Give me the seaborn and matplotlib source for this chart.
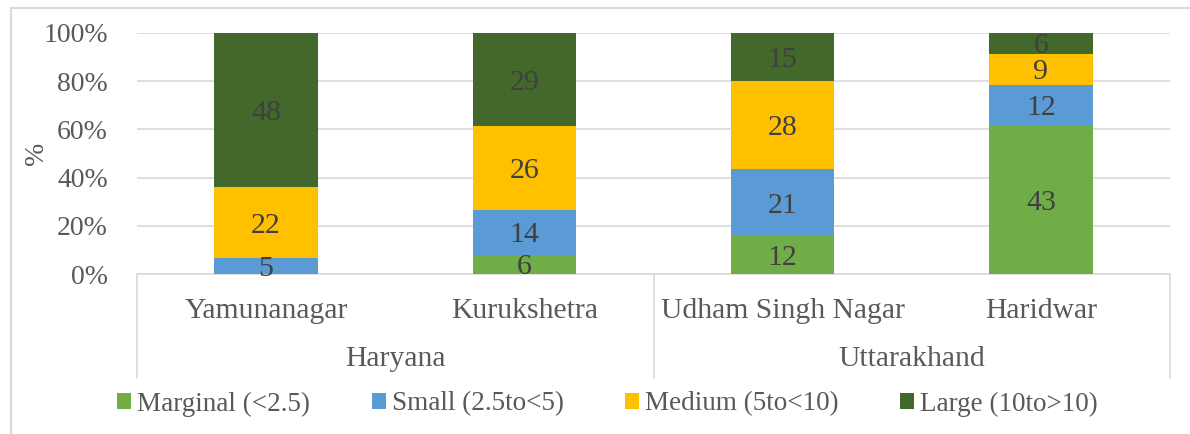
import numpy as np
import pandas as pd
import matplotlib
matplotlib.use("Agg")
import matplotlib.pyplot as plt
from matplotlib.patches import Patch
from matplotlib.lines import Line2D
import seaborn as sns

# data
districts = ["Yamunanagar", "Kurukshetra", "Udham Singh Nagar", "Haridwar"]
states = ["Haryana", "Uttarakhand"]
series = ["Marginal (<2.5)", "Small (2.5to<5)", "Medium (5to<10)", "Large (10to>10)"]
marginal = [0, 6, 12, 43]
small = [5, 14, 21, 12]
medium = [22, 26, 28, 9]
large = [48, 29, 15, 6]
colors = ["#70AD47", "#5B9BD5", "#FFC000", "#43682B"]

sns.set_theme(style="white")
plt.rcParams["font.family"] = ["Liberation Serif", "DejaVu Serif"]

counts = pd.DataFrame({"Marginal (<2.5)": marginal, "Small (2.5to<5)": small,
                       "Medium (5to<10)": medium, "Large (10to>10)": large},
                      index=districts)
share = counts.div(counts.sum(axis=1), axis=0)
cum = share.cumsum(axis=1)

fig = plt.figure(figsize=(11.9, 4.34), dpi=100)
ax = fig.add_axes([137 / 1190, 1 - 274 / 434, (1170 - 137) / 1190, (274 - 33) / 434])

tick_col = "#595959"
grid_col = "#D9D9D9"

# draw stacked bars from top layer down (cumulative heights)
for s, c in zip(reversed(series), reversed(colors)):
    sns.barplot(x=districts, y=cum[s].values, color=c, width=0.4, saturation=1,
                linewidth=0, ax=ax, zorder=3)

# segment labels
for i, d in enumerate(districts):
    base = 0
    for s in series:
        h = share.loc[d, s]
        if counts.loc[d, s] > 0:
            ax.text(i, base + h / 2, str(counts.loc[d, s]), ha="center",
                    va="center_baseline", fontsize=21.5, color="#404040", zorder=5)
        base += h

ax.set_xlim(-0.5, 3.5)
ax.set_ylim(0, 1)
ax.set_yticks(np.arange(0, 1.01, 0.2))
ax.set_yticklabels([f"{int(round(v * 100))}%" for v in np.arange(0, 1.01, 0.2)],
                   fontsize=20, color=tick_col)
ax.tick_params(axis="y", length=0, pad=21)
ax.set_xticks([])
ax.set_xlabel("")
ax.yaxis.grid(True, color=grid_col, linewidth=1.2, zorder=0)
for sp in ["top", "right", "left"]:
    ax.spines[sp].set_visible(False)
ax.spines["bottom"].set_color(grid_col)
ax.spines["bottom"].set_linewidth(1.2)
ax.set_ylabel("%", fontsize=20, color=tick_col)
ax.yaxis.set_label_coords(-(137 - 49) / (1170 - 137), 0.5)

# multi-level category axis
tr = ax.get_xaxis_transform()
axh = 274 - 33
y_dist = -(311 - 274) / axh
y_state = -(359 - 274) / axh
y_box = -(378 - 274) / axh
for i, d in enumerate(districts):
    ax.text(i, y_dist, d, transform=tr, ha="center", va="center",
            fontsize=21.3, color=tick_col)
for j, st in enumerate(states):
    ax.text(2 * j + 0.5, y_state, st, transform=tr, ha="center", va="center",
            fontsize=21.3, color=tick_col)
for xv in [-0.5, 1.5, 3.5]:
    ax.plot([xv, xv], [0, y_box], transform=tr, color=grid_col, lw=1.2,
            clip_on=False)

# legend
handles = [Patch(facecolor=c, edgecolor="none") for c in colors]
fig.legend(handles, series, loc="center", bbox_to_anchor=(0.5105, (434 - 404) / 434),
           ncol=4, frameon=False, fontsize=19.5, handlelength=0.52, handleheight=0.52,
           handletextpad=0.22, columnspacing=2.27, labelcolor=tick_col)

# outer chart border
fig.add_artist(Line2D([11 / 1190, 1.0], [1 - 8 / 434, 1 - 8 / 434], color=grid_col, lw=1.5))
fig.add_artist(Line2D([11 / 1190, 11 / 1190], [0, 1 - 8 / 434], color=grid_col, lw=1.5))

fig.savefig("out.png", dpi=100, facecolor="white")
